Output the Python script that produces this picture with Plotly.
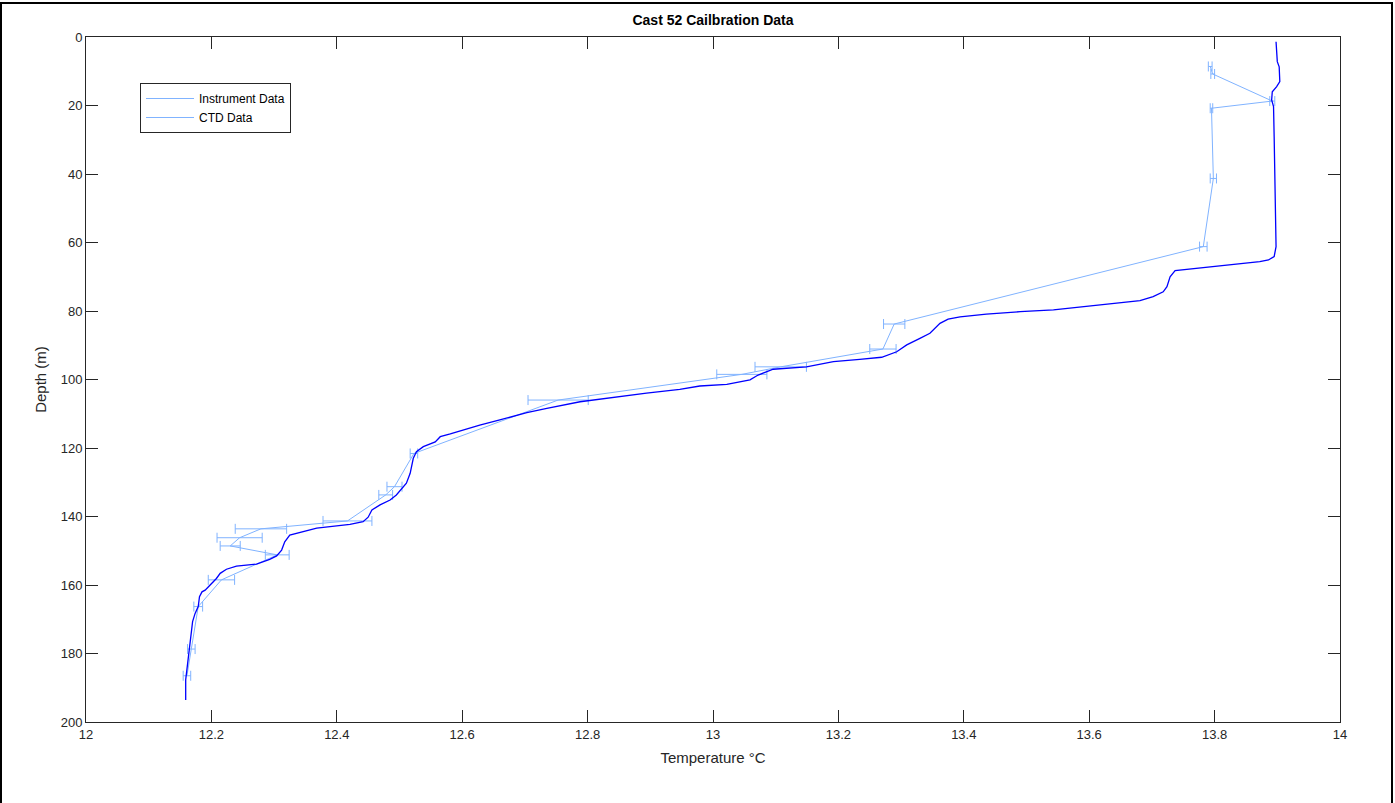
import plotly.graph_objects as go

# Instrument data (temperature °C, depth m, horizontal error half-width °C)
inst_temp = [13.793, 13.797, 13.892, 13.795, 13.798, 13.782, 13.289, 13.271, 13.108, 13.046,
             12.753, 12.523, 12.492, 12.478, 12.417, 12.279, 12.245, 12.230, 12.305, 12.216,
             12.179, 12.168, 12.161]
inst_depth = [8.6, 10.8, 18.7, 20.8, 41.3, 61.2, 83.8, 91.1, 96.3, 98.5,
              106.0, 121.6, 131.3, 133.7, 141.3, 143.6, 146.2, 148.6, 151.2, 158.5,
              166.3, 178.7, 186.5]
inst_err = [0.003, 0.003, 0.004, 0.002, 0.005, 0.006, 0.017, 0.021, 0.041, 0.040,
            0.048, 0.006, 0.012, 0.011, 0.039, 0.041, 0.036, 0.016, 0.019, 0.021,
            0.007, 0.006, 0.006]

# CTD data
ctd_temp = [13.898, 13.899, 13.900, 13.903, 13.904, 13.899, 13.892, 13.891, 13.894, 13.895,
            13.896, 13.897, 13.898, 13.895, 13.886, 13.872, 13.777, 13.737, 13.729, 13.724,
            13.718, 13.702, 13.681, 13.649, 13.596, 13.543, 13.490, 13.436, 13.394, 13.375,
            13.362, 13.354, 13.346, 13.330, 13.309, 13.293, 13.269, 13.234, 13.192, 13.149,
            13.096, 13.086, 13.072, 13.059, 13.032, 13.022, 12.979, 12.947, 12.894, 12.841,
            12.788, 12.735, 12.703, 12.660, 12.628, 12.581, 12.565, 12.557, 12.538, 12.527,
            12.522, 12.517, 12.511, 12.495, 12.485, 12.469, 12.456, 12.450, 12.442, 12.421,
            12.368, 12.325, 12.317, 12.312, 12.304, 12.293, 12.272, 12.240, 12.224, 12.214,
            12.208, 12.198, 12.190, 12.185, 12.181, 12.179, 12.174, 12.170, 12.167, 12.165,
            12.162, 12.159, 12.159]
ctd_depth = [1.4, 3.8, 7.2, 8.7, 13.0, 14.5, 16.0, 18.4, 20.3, 29.1,
             38.8, 52.5, 61.2, 64.1, 65.1, 65.6, 67.3, 68.2, 70.0, 72.9,
             74.4, 75.8, 77.0, 77.6, 78.5, 79.7, 80.2, 80.9, 81.7, 82.4,
             83.6, 85.1, 86.5, 88.0, 89.9, 91.9, 93.5, 94.1, 94.8, 96.3,
             97.0, 97.7, 98.7, 100.1, 100.9, 101.4, 101.9, 102.9, 104.0, 105.2,
             106.5, 108.4, 109.7, 111.8, 113.3, 115.9, 116.7, 118.2, 119.6, 121.1,
             123.0, 127.4, 130.3, 133.7, 135.2, 136.6, 138.1, 140.2, 141.5, 142.3,
             143.4, 145.4, 147.4, 149.8, 151.5, 152.5, 153.9, 154.5, 155.4, 156.6,
             158.1, 160.0, 161.5, 162.0, 163.4, 166.3, 168.3, 170.7, 175.1, 179.0,
             183.9, 187.7, 193.6]

x_ticks = [12, 12.2, 12.4, 12.6, 12.8, 13, 13.2, 13.4, 13.6, 13.8, 14]
x_ticklabels = ["12", "12.2", "12.4", "12.6", "12.8", "13", "13.2", "13.4", "13.6", "13.8", "14"]
y_ticks = [0, 20, 40, 60, 80, 100, 120, 140, 160, 180, 200]

LIGHT = "#80b3ff"
DARK = "#0000ff"
FONT = "Liberation Sans, Arial, sans-serif"

fig = go.Figure()
fig.add_trace(go.Scatter(
    x=inst_temp, y=inst_depth, mode="lines",
    line=dict(color=LIGHT, width=1),
    error_x=dict(type="data", array=inst_err, symmetric=True, color=LIGHT, thickness=1, width=5),
    showlegend=False, hoverinfo="x+y"))
fig.add_trace(go.Scatter(
    x=ctd_temp, y=ctd_depth, mode="lines",
    line=dict(color=DARK, width=1.3), showlegend=False))
# legend entries (both drawn in the light colour, as in the reference)
fig.add_trace(go.Scatter(x=[None], y=[None], mode="lines", name="Instrument Data",
                         line=dict(color=LIGHT, width=1)))
fig.add_trace(go.Scatter(x=[None], y=[None], mode="lines", name="CTD Data",
                         line=dict(color=LIGHT, width=1)))

L, R, T, B = 86, 55, 37, 81
W, H = 1395, 803
pw, ph = W - L - R, H - T - B

axis_common = dict(
    showline=True, linecolor="#262626", linewidth=1, mirror="allticks",
    ticks="inside", ticklen=12, tickcolor="#262626", tickwidth=1,
    showgrid=False, zeroline=False,
    tickfont=dict(family=FONT, size=13, color="#262626"),
)

fig.update_layout(
    width=W, height=H,
    margin=dict(l=L, r=R, t=T, b=B),
    paper_bgcolor="white", plot_bgcolor="white",
    title=dict(text="<b>Cast 52 Cailbration Data</b>", x=(L + pw / 2) / W, xanchor="center",
               y=1 - 20 / H, yanchor="middle",
               font=dict(family=FONT, size=14, color="black")),
    xaxis=dict(range=[12, 14], tickvals=x_ticks, ticktext=x_ticklabels,
               title=dict(text="Temperature °C", font=dict(family=FONT, size=15, color="#262626"),
                          standoff=11),
               **axis_common),
    yaxis=dict(range=[200, 0], tickvals=y_ticks,
               title=dict(text="Depth (m)", font=dict(family=FONT, size=15, color="#262626"),
                          standoff=10),
               **axis_common),
    legend=dict(x=(140 - L) / pw, y=(H - B - 83) / ph, xanchor="left", yanchor="top",
                bgcolor="white", bordercolor="#262626", borderwidth=1,
                font=dict(family=FONT, size=12, color="black"),
                tracegroupgap=0, itemwidth=48, traceorder="normal"),
    showlegend=True,
    shapes=[dict(type="rect", xref="paper", yref="paper",
                 x0=(1 - L) / pw, x1=(1392 - L) / pw,
                 y0=(H - B - 806) / ph, y1=(H - B - 3) / ph,
                 line=dict(color="black", width=2), fillcolor="rgba(0,0,0,0)", layer="above")],
)

fig.write_html("out.html")
